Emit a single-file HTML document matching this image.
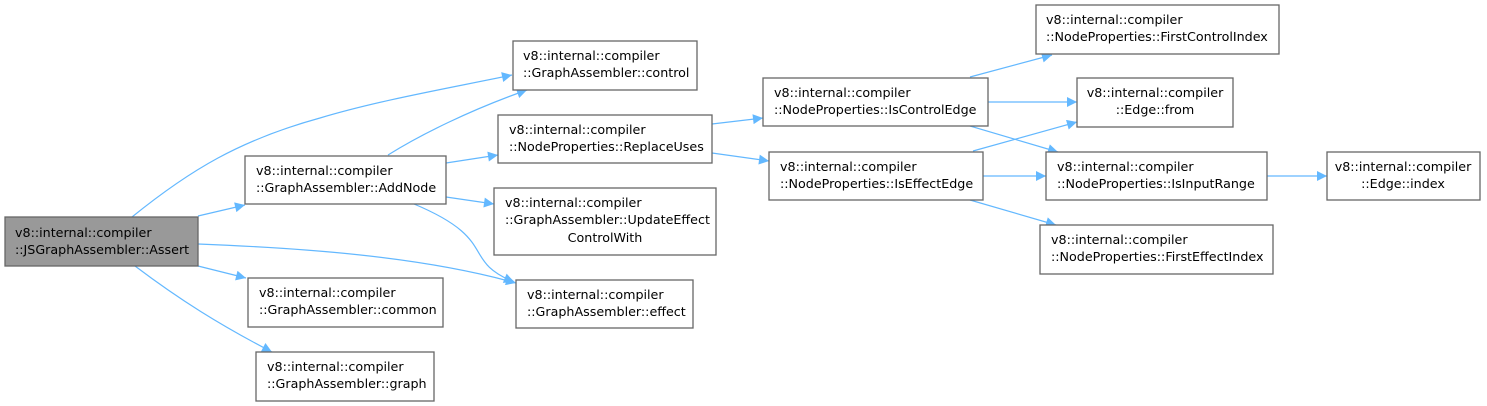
<!DOCTYPE html>
<html><head><meta charset="utf-8"><style>
html,body{margin:0;padding:0;background:#fff;}
svg{display:block;}
text{font-family:"DejaVu Sans","Liberation Sans",sans-serif;font-size:12.7px;fill:#000;}
.b{fill:#fff;stroke:#666;stroke-width:1.3;}
.e{fill:none;stroke:#63b8ff;stroke-width:1.2;}
</style></head><body>
<svg width="1487" height="406" viewBox="0 0 1487 406" xmlns="http://www.w3.org/2000/svg">
<defs><marker id="m" viewBox="0 0 10 10" refX="10" refY="5" markerWidth="13" markerHeight="10" markerUnits="userSpaceOnUse" orient="auto"><path d="M0,0 L10,5 L0,10 z" fill="#63b8ff"/></marker></defs>
<g class="e" marker-end="url(#m)">
<path d="M132,217 C190,170 240,140 320,118 C380,100 450,88 512,75"/>
<path d="M198,216 L245,205"/>
<path d="M198,244 C300,248 420,256 516,283"/>
<path d="M198,266 L246,278"/>
<path d="M135,266 C180,300 220,325 272,352"/>
<path d="M388,155 C420,135 470,110 527,90"/>
<path d="M446,163 L498,155"/>
<path d="M446,197 L494,204"/>
<path d="M414,204 C500,240 460,260 514,282"/>
<path d="M712,124 L763,118"/>
<path d="M712,153 L769,161"/>
<path d="M970,77 L1052,55"/>
<path d="M988,102 L1077,102"/>
<path d="M970,126 L1058,152"/>
<path d="M973,151 L1077,122"/>
<path d="M983,176 L1046,176"/>
<path d="M970,200 L1056,225"/>
<path d="M1267,176 L1327,176"/>
</g>
<rect x="5" y="217" width="193" height="49" fill="#999" stroke="#666" stroke-width="1.3"/>
<text x="15" y="237">v8::internal::compiler</text><text x="15" y="254">::JSGraphAssembler::Assert</text>

<rect class="b" x="245" y="156" width="201" height="48"/>
<text x="256" y="175">v8::internal::compiler</text><text x="256" y="192">::GraphAssembler::AddNode</text>

<rect class="b" x="248" y="278" width="195" height="49"/>
<text x="259" y="297">v8::internal::compiler</text><text x="259" y="314">::GraphAssembler::common</text>

<rect class="b" x="256" y="352" width="178" height="49"/>
<text x="267" y="371">v8::internal::compiler</text><text x="267" y="388">::GraphAssembler::graph</text>

<rect class="b" x="513" y="41" width="184" height="49"/>
<text x="523" y="60">v8::internal::compiler</text><text x="523" y="77">::GraphAssembler::control</text>

<rect class="b" x="498" y="115" width="214" height="48"/>
<text x="509" y="134">v8::internal::compiler</text><text x="509" y="151">::NodeProperties::ReplaceUses</text>

<rect class="b" x="494" y="188" width="222" height="67"/>
<text x="505" y="207">v8::internal::compiler</text><text x="505" y="224">::GraphAssembler::UpdateEffect</text><text x="605" y="242" text-anchor="middle">ControlWith</text>

<rect class="b" x="516" y="280" width="177" height="48"/>
<text x="527" y="299">v8::internal::compiler</text><text x="527" y="316">::GraphAssembler::effect</text>

<rect class="b" x="763" y="78" width="225" height="48"/>
<text x="774" y="97">v8::internal::compiler</text><text x="774" y="114">::NodeProperties::IsControlEdge</text>

<rect class="b" x="769" y="152" width="214" height="48"/>
<text x="780" y="171">v8::internal::compiler</text><text x="780" y="188">::NodeProperties::IsEffectEdge</text>

<rect class="b" x="1036" y="5" width="243" height="49"/>
<text x="1046" y="24">v8::internal::compiler</text><text x="1046" y="41">::NodeProperties::FirstControlIndex</text>

<rect class="b" x="1077" y="78" width="156" height="49"/>
<text x="1155" y="97" text-anchor="middle">v8::internal::compiler</text><text x="1155" y="114" text-anchor="middle">::Edge::from</text>

<rect class="b" x="1046" y="152" width="221" height="48"/>
<text x="1057" y="171">v8::internal::compiler</text><text x="1057" y="188">::NodeProperties::IsInputRange</text>

<rect class="b" x="1040" y="225" width="233" height="49"/>
<text x="1051" y="244">v8::internal::compiler</text><text x="1051" y="261">::NodeProperties::FirstEffectIndex</text>

<rect class="b" x="1327" y="152" width="153" height="48"/>
<text x="1403" y="171" text-anchor="middle">v8::internal::compiler</text><text x="1403" y="188" text-anchor="middle">::Edge::index</text>
</svg>
</body></html>
